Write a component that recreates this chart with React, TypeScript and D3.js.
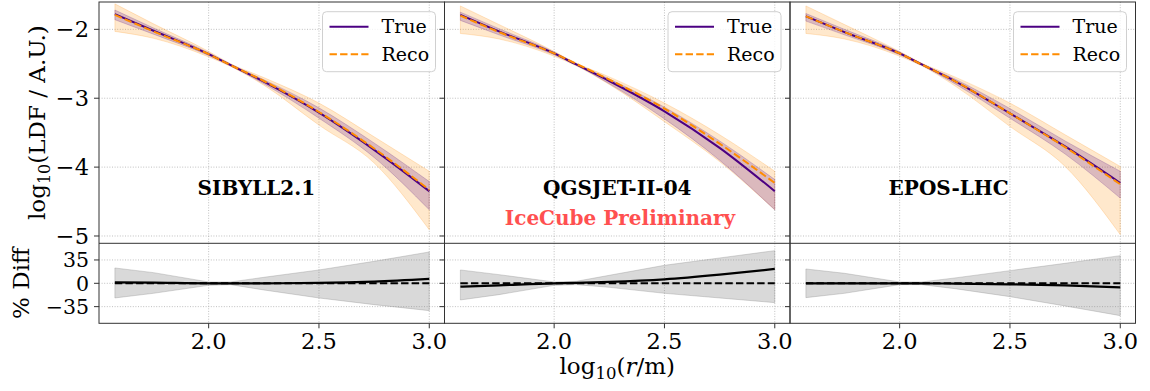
import React from "react";
import * as d3 from "d3";

const W = 1150;
const H = 391;
const FONT = "DejaVu Serif, serif";

const models = ["SIBYLL2.1", "QGSJET-II-04", "EPOS-LHC"];
const radii = [1.575, 1.75, 2.0, 2.1, 2.25, 2.5, 2.75, 3.0];
const xTicks = [2.0, 2.5, 3.0];
const yTicks = [-2, -3, -4, -5];
const diffTicks = [35, 0, -35];

// SIBYLL2.1
const trueSib = [-1.78, -2.02, -2.36, -2.52, -2.76, -3.21, -3.75, -4.35];
const recoSib = [-1.79, -2.03, -2.36, -2.52, -2.75, -3.2, -3.73, -4.33];
const trueHiSib = [-1.72, -1.98, -2.34, -2.51, -2.73, -3.14, -3.65, -4.21];
const trueLoSib = [-1.86, -2.07, -2.38, -2.53, -2.79, -3.29, -3.86, -4.62];
const recoHiSib = [-1.63, -1.92, -2.32, -2.5, -2.7, -3.07, -3.56, -4.06];
const recoLoSib = [-2.03, -2.13, -2.4, -2.54, -2.81, -3.39, -3.94, -4.91];
const diffSib = [1.5, 1, 0, 0, 0, 0.5, 2.5, 6.5];
const diffHiSib = [23, 16, 2, 2, 9, 20, 33, 47];
const diffLoSib = [-22, -15, -3, -2, -10, -22, -32, -41];

// QGSJET-II-04
const trueQgs = [-1.79, -2.03, -2.35, -2.51, -2.75, -3.19, -3.72, -4.35];
const recoQgs = [-1.8, -2.04, -2.35, -2.5, -2.73, -3.15, -3.66, -4.23];
const trueHiQgs = [-1.75, -1.99, -2.33, -2.5, -2.72, -3.13, -3.62, -4.18];
const trueLoQgs = [-1.87, -2.08, -2.37, -2.52, -2.79, -3.3, -3.9, -4.62];
const recoHiQgs = [-1.66, -1.93, -2.32, -2.49, -2.69, -3.07, -3.53, -4.06];
const recoLoQgs = [-2.06, -2.14, -2.39, -2.53, -2.8, -3.34, -3.92, -4.62];
const diffQgs = [-5, -3, 0, 0.5, 2, 6, 13, 21.5];
const diffHiQgs = [20, 13, 2, 3, 12, 27, 38, 49];
const diffLoQgs = [-25, -17, -3, -2, -6, -15, -22, -29];

// EPOS-LHC
const trueEpos = [-1.81, -2.04, -2.35, -2.51, -2.75, -3.22, -3.7, -4.23];
const recoEpos = [-1.81, -2.04, -2.35, -2.51, -2.75, -3.22, -3.71, -4.25];
const trueHiEpos = [-1.77, -2.0, -2.33, -2.5, -2.72, -3.15, -3.62, -4.06];
const trueLoEpos = [-1.88, -2.08, -2.37, -2.52, -2.79, -3.29, -3.81, -4.45];
const recoHiEpos = [-1.66, -1.93, -2.32, -2.49, -2.69, -3.07, -3.53, -3.99];
const recoLoEpos = [-2.06, -2.14, -2.39, -2.53, -2.82, -3.41, -3.99, -4.98];
const diffEpos = [0, 0, 0, 0, -0.5, -1.5, -3, -6];
const diffHiEpos = [21.5, 15, 2, 2, 8, 19, 30, 41.5];
const diffLoEpos = [-21.5, -15, -2, -2, -8, -20, -34, -48.5];

const panels = [
  { name: models[0], t: trueSib, r: recoSib, tHi: trueHiSib, tLo: trueLoSib, rHi: recoHiSib, rLo: recoLoSib, d: diffSib, dHi: diffHiSib, dLo: diffLoSib },
  { name: models[1], t: trueQgs, r: recoQgs, tHi: trueHiQgs, tLo: trueLoQgs, rHi: recoHiQgs, rLo: recoLoQgs, d: diffQgs, dHi: diffHiQgs, dLo: diffLoQgs },
  { name: models[2], t: trueEpos, r: recoEpos, tHi: trueHiEpos, tLo: trueLoEpos, rHi: recoHiEpos, rLo: recoLoEpos, d: diffEpos, dHi: diffHiEpos, dLo: diffLoEpos },
];

const left0 = 99;
const panelW = 345.5;
const mainTop = 2;
const mainBottom = 243.3;
const diffBottom = 323.3;

const y = d3.scaleLinear().domain([-5.106, -1.603]).range([mainBottom, mainTop]);
const yd = d3.scaleLinear().domain([-60, 60]).range([diffBottom, mainBottom]);

const fmtY = (v: number) => (v < 0 ? "\u2212" + Math.abs(v) : String(v));

const Panel = ({ p, i }: { p: any; i: number }) => {
  const x0 = left0 + i * panelW;
  const x = d3.scaleLinear().domain([1.503, 3.069]).range([x0, x0 + panelW]);
  const idx = radii.map((_, k) => k);

  const line = (vals: number[], ys: any, curve = d3.curveMonotoneX) =>
    d3.line<number>().x((k) => x(radii[k])).y((k) => ys(vals[k])).curve(curve)(idx) || "";
  const band = (lo: number[], hi: number[], ys: any, curve: any = d3.curveMonotoneX) =>
    d3.area<number>().x((k) => x(radii[k])).y0((k) => ys(lo[k])).y1((k) => ys(hi[k])).curve(curve)(idx) || "";

  const zero = d3.line<number>().x((k) => x(radii[k])).y(() => yd(0))(idx) || "";
  const gridStyle = { stroke: "#b0b0b0", strokeWidth: 0.8, strokeDasharray: "1,1.6" };
  const lx = x0 + panelW - 9 - 113;
  const ly = 11.7;

  return (
    <g>
      <defs>
        <clipPath id={`clipm${i}`}>
          <rect x={x0} y={mainTop} width={panelW} height={mainBottom - mainTop} />
        </clipPath>
        <clipPath id={`clipd${i}`}>
          <rect x={x0} y={mainBottom} width={panelW} height={diffBottom - mainBottom} />
        </clipPath>
      </defs>
      {/* grid */}
      {xTicks.map((t) => (
        <g key={"gx" + t}>
          <line x1={x(t)} x2={x(t)} y1={mainTop} y2={mainBottom} {...gridStyle} />
          <line x1={x(t)} x2={x(t)} y1={mainBottom} y2={diffBottom} {...gridStyle} />
        </g>
      ))}
      {yTicks.map((t) => (
        <line key={"gy" + t} x1={x0} x2={x0 + panelW} y1={y(t)} y2={y(t)} {...gridStyle} />
      ))}
      {diffTicks.map((t) => (
        <line key={"gd" + t} x1={x0} x2={x0 + panelW} y1={yd(t)} y2={yd(t)} {...gridStyle} />
      ))}

      {/* main panel */}
      <g clipPath={`url(#clipm${i})`}>
        <path d={band(p.rLo, p.rHi, y)} fill="#ff8c00" fillOpacity={0.2} stroke="#ff8c00" strokeOpacity={0.2} strokeWidth={1} />
        <path d={band(p.tLo, p.tHi, y)} fill="#4b0082" fillOpacity={0.2} stroke="#4b0082" strokeOpacity={0.2} strokeWidth={1} />
        <path d={line(p.t, y)} fill="none" stroke="#4b0082" strokeWidth={2} />
        <path d={line(p.r, y)} fill="none" stroke="#ff8c00" strokeWidth={2} strokeDasharray="7.4,3.2" />
      </g>

      {/* diff panel */}
      <g clipPath={`url(#clipd${i})`}>
        <path d={band(p.dLo, p.dHi, yd, d3.curveLinear)} fill="#808080" fillOpacity={0.3} stroke="#808080" strokeOpacity={0.3} strokeWidth={1} />
        <path d={zero} fill="none" stroke="#000" strokeWidth={2} strokeDasharray="7.4,3.2" />
        <path d={line(p.d, yd)} fill="none" stroke="#000" strokeWidth={2.2} />
      </g>

      {/* labels */}
      <text x={x(1.95)} y={y(-4.4)} fontFamily={FONT} fontWeight="bold" fontSize={20} fill="#000">
        {p.name}
      </text>

      {/* legend */}
      <g>
        <rect x={lx} y={ly} width={113} height={60} rx={4} fill="#fff" fillOpacity={0.8} stroke="#d0d0d0" strokeWidth={1} />
        <line x1={lx + 7} x2={lx + 46} y1={ly + 15} y2={ly + 15} stroke="#4b0082" strokeWidth={2} />
        <text x={lx + 59} y={ly + 15} dy="0.35em" fontFamily={FONT} fontSize={19} fill="#000">True</text>
        <line x1={lx + 7} x2={lx + 46} y1={ly + 42.6} y2={ly + 42.6} stroke="#ff8c00" strokeWidth={2} strokeDasharray="7.4,3.2" />
        <text x={lx + 59} y={ly + 42.6} dy="0.35em" fontFamily={FONT} fontSize={19} fill="#000">Reco</text>
      </g>

      {/* frame */}
      <rect x={x0} y={mainTop} width={panelW} height={diffBottom - mainTop} fill="none" stroke="#333" strokeWidth={1} />
      <line x1={x0} x2={x0 + panelW} y1={mainBottom} y2={mainBottom} stroke="#333" strokeWidth={1} />

      {/* ticks */}
      {yTicks.map((t) => (
        <line key={"ty" + t} x1={x0 - 5} x2={x0} y1={y(t)} y2={y(t)} stroke="#333" strokeWidth={1} />
      ))}
      {diffTicks.map((t) => (
        <line key={"td" + t} x1={x0 - 5} x2={x0} y1={yd(t)} y2={yd(t)} stroke="#333" strokeWidth={1} />
      ))}
      {xTicks.map((t) => (
        <g key={"tx" + t}>
          <line x1={x(t)} x2={x(t)} y1={diffBottom} y2={diffBottom + 5} stroke="#333" strokeWidth={1} />
          <text x={x(t)} y={349} textAnchor="middle" fontFamily={FONT} fontSize={22.5} fill="#000">
            {t.toFixed(1)}
          </text>
        </g>
      ))}
      {i === 0 &&
        yTicks.map((t) => (
          <text key={"ly" + t} x={x0 - 10} y={y(t)} dy="0.36em" textAnchor="end" fontFamily={FONT} fontSize={22.5} fill="#000">
            {fmtY(t)}
          </text>
        ))}
      {i === 0 &&
        diffTicks.map((t) => (
          <text key={"ld" + t} x={x0 - 10} y={yd(t)} dy="0.36em" textAnchor="end" fontFamily={FONT} fontSize={20.5} fill="#000">
            {fmtY(t)}
          </text>
        ))}
    </g>
  );
};

export default function App() {
  const xMid = left0 + (panelW * 3) / 2;
  return (
    <svg width={W} height={H} style={{ position: "absolute", left: 0, top: 0, background: "#fff" }}>
      <rect x={0} y={0} width={W} height={H} fill="#fff" />
      {panels.map((p, i) => (
        <Panel key={p.name} p={p} i={i} />
      ))}
      <text x={620} y={225} textAnchor="middle" fontFamily={FONT} fontWeight="bold" fontSize={20} fill="#ff5050">
        IceCube Preliminary
      </text>
      {/* axis labels */}
      <text transform={`translate(45,${(mainTop + mainBottom) / 2}) rotate(-90)`} textAnchor="middle" fontFamily={FONT} fontSize={23} fill="#000">
        log<tspan fontSize={16} dy={5}>10</tspan>
        <tspan dy={-5}>(LDF / A.U.)</tspan>
      </text>
      <text transform={`translate(29,${(mainBottom + diffBottom) / 2}) rotate(-90)`} textAnchor="middle" fontFamily={FONT} fontSize={23} fill="#000">
        % Diff
      </text>
      <text x={xMid} y={374} textAnchor="middle" fontFamily={FONT} fontSize={23} fill="#000">
        log<tspan fontSize={16.5} dy={5}>10</tspan>
        <tspan dy={-5}>(</tspan>
        <tspan fontStyle="italic">r</tspan>
        <tspan>/m)</tspan>
      </text>
    </svg>
  );
}
